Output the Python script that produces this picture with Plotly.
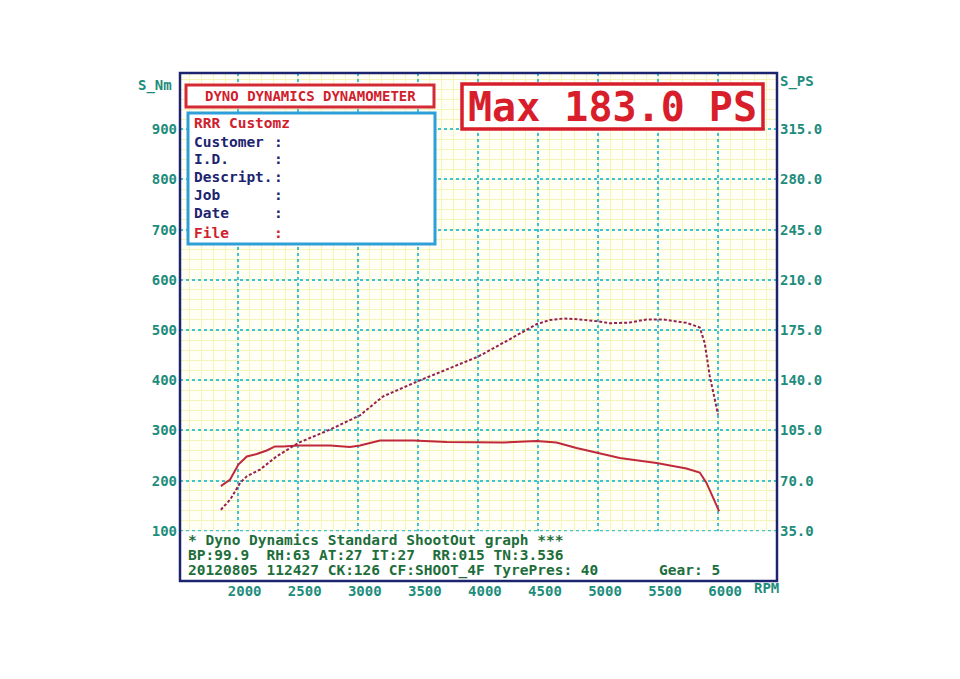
import plotly.graph_objects as go

# torque curve (S_Nm, left axis)
tq_rpm = [1860, 1937, 2006, 2076, 2159, 2242, 2311, 2380, 2505, 2769, 2935, 3018,
          3185, 3462, 3740, 4003, 4210, 4488, 4654, 4821, 5015, 5181, 5487, 5736,
          5847, 5902, 5958, 6008]
tq_nm = [189, 202, 232, 248, 253, 260, 268, 268, 270, 270, 267, 270,
         280, 280, 277, 276, 276, 279, 276, 265, 254, 245, 235, 224,
         216, 196, 166, 139]

# power curve (S_PS, right axis)
pw_rpm = [1860, 1937, 2020, 2076, 2186, 2325, 2505, 2769, 3018, 3212, 3503, 3740,
          4003, 4210, 4488, 4599, 4710, 4848, 4987, 5098, 5265, 5404, 5542, 5736,
          5847, 5888, 5930, 5972, 5999]
pw_ps = [49.7, 56.7, 68.3, 73.0, 77.7, 86.9, 96.3, 105.6, 115.5, 128.8, 139.4, 147.4,
         156.5, 166.0, 179.0, 182.0, 183.0, 182.4, 181.2, 179.7, 180.2, 182.4, 182.4, 180.0,
         176.8, 166.0, 143.0, 126.7, 116.0]

nm_ticks = [100, 200, 300, 400, 500, 600, 700, 800, 900]
ps_ticks = [35.0, 70.0, 105.0, 140.0, 175.0, 210.0, 245.0, 280.0, 315.0]
rpm_ticks = [2000, 2500, 3000, 3500, 4000, 4500, 5000, 5500, 6000]

info_rows = ["Customer", "I.D.", "Descript.", "Job", "Date", "File"]
footer = [
    "* Dyno Dynamics Standard ShootOut graph ***",
    "BP:99.9\u00a0\u00a0RH:63 AT:27 IT:27\u00a0\u00a0RR:015 TN:3.536",
    "20120805 112427 CK:126 CF:SHOOT_4F TyrePres: 40",
]

FONT = "DejaVu Sans Mono"
TEAL = "#1e8c7c"
GREEN = "#1d6e3a"
NAVY = "#1c2470"
RED = "#d81e2a"

# plot area in page pixels; the page body has an 8px margin
OFF = 8
L, R, T, B = 180, 777, 73, 581
W, H = 960, 679
def px(x):
    return (x - L) / (R - L)
def py(y):
    return (B - y) / (B - T)

YMAX = 1012

fig = go.Figure()
fig.add_trace(go.Scatter(x=tq_rpm, y=tq_nm, mode="lines", name="Torque",
                         line=dict(color="#c0283c", width=2)))
fig.add_trace(go.Scatter(x=pw_rpm, y=pw_ps, mode="lines", name="Power", yaxis="y2",
                         line=dict(color="#962050", width=2, dash="3px,2px")))

shapes = [
    # white footer panel
    dict(type="rect", xref="paper", yref="y", x0=0, x1=1, y0=0, y1=99,
         fillcolor="white", line=dict(width=0), layer="above"),
    # frame
    dict(type="rect", xref="paper", yref="paper", x0=0, x1=1, y0=0, y1=1,
         line=dict(color=NAVY, width=2.5), layer="above"),
    # title box
    dict(type="rect", xref="paper", yref="paper", x0=px(186), x1=px(434), y0=py(107), y1=py(85),
         fillcolor="white", line=dict(color="#d42a36", width=3), layer="above"),
    # info box
    dict(type="rect", xref="paper", yref="paper", x0=px(188), x1=px(435), y0=py(244), y1=py(113),
         fillcolor="white", line=dict(color="#2e9fd8", width=3), layer="above"),
    # max box
    dict(type="rect", xref="paper", yref="paper", x0=px(462), x1=px(763), y0=py(129), y1=py(84),
         fillcolor="white", line=dict(color=RED, width=3.5), layer="above"),
]

ann = []
def text(x, y, s, color, size=14.5, anchor="left"):
    ann.append(dict(xref="paper", yref="paper", x=px(x), y=py(y), text=s, showarrow=False,
                    xanchor=anchor, yanchor="middle",
                    font=dict(family=FONT, size=size, color=color, weight="bold")))

text(310, 96, "DYNO DYNAMICS DYNAMOMETER", "#d0202c", 14, "center")
text(612, 107, "Max 183.0 PS", RED, 40, "center")
text(192, 123, "RRR Customz", "#d0202c")
rows_y = [142, 159, 177, 195, 213, 233]
for name, yy in zip(info_rows, rows_y):
    col = "#d0202c" if name == "File" else NAVY
    text(192, yy, name, col)
    text(272, yy, ":", col)
for s, yy in zip(footer, [540, 555, 570]):
    text(186, yy, s, GREEN)
text(657, 570, "Gear: 5", GREEN)
text(136, 86, "S_Nm", TEAL, 14)
text(778, 82, "S_PS", TEAL, 14)
text(752, 588, "RPM", TEAL, 14)

fig.update_layout(
    width=W, height=H,
    margin=dict(l=L - OFF, r=W - (R - OFF), t=T - OFF, b=H - (B - OFF)),
    paper_bgcolor="white",
    plot_bgcolor="#fffff6",
    showlegend=False,
    shapes=shapes,
    annotations=ann,
    xaxis=dict(range=[1520, 6490], tickvals=rpm_ticks, ticks="", showline=False,
               zeroline=False, showgrid=True, gridcolor="#3fc2d4", gridwidth=1.5,
               griddash="dot", ticklabelshift=7, ticklabelstandoff=0,
               tickfont=dict(family=FONT, size=14, color=TEAL, weight="bold"),
               minor=dict(dtick=100, tick0=0, showgrid=True, gridcolor="#f4f3bc",
                          gridwidth=1, griddash="solid")),
    yaxis=dict(range=[0, YMAX], tickvals=nm_ticks, ticks="", showline=False,
               zeroline=False, showgrid=True, gridcolor="#3fc2d4", gridwidth=1.5,
               griddash="dot", ticklabelstandoff=2,
               tickfont=dict(family=FONT, size=14, color=TEAL, weight="bold"),
               minor=dict(dtick=20, tick0=0, showgrid=True, gridcolor="#f4f3bc",
                          gridwidth=1, griddash="solid")),
    yaxis2=dict(range=[0, YMAX * 0.35], overlaying="y", side="right",
                tickvals=ps_ticks, ticktext=[f"{v:.1f}" for v in ps_ticks],
                showgrid=False, zeroline=False, ticks="", ticklabelstandoff=2,
                tickfont=dict(family=FONT, size=14, color=TEAL, weight="bold")),
)

fig.write_html("out.html")
